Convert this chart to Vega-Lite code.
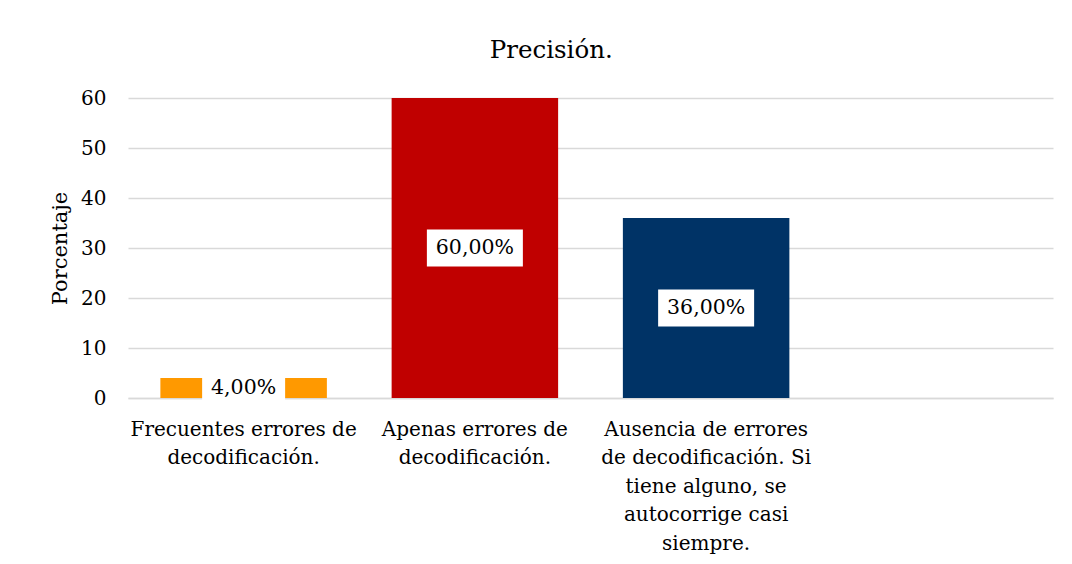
{
  "$schema": "https://vega.github.io/schema/vega-lite/v6.json",
  "width": 925,
  "height": 300,
  "autosize": "none",
  "padding": {"left": 128, "top": 98, "right": 19, "bottom": 166},
  "background": "white",
  "config": {
    "font": "DejaVu Serif",
    "view": {"stroke": null}
  },
  "title": {
    "text": "Precisión.",
    "fontSize": 24.5,
    "fontWeight": "normal",
    "color": "#000000",
    "frame": "bounds",
    "anchor": "middle",
    "offset": 25
  },
  "data": {
    "values": [
      {"categoria": "Frecuentes errores de\ndecodificación.", "valor": 4, "etiqueta": "4,00%"},
      {"categoria": "Apenas errores de\ndecodificación.", "valor": 60, "etiqueta": "60,00%"},
      {"categoria": "Ausencia de errores\nde decodificación. Si\ntiene alguno, se\nautocorrige casi\nsiempre.", "valor": 36, "etiqueta": "36,00%"}
    ]
  },
  "transform": [{"calculate": "datum.valor / 2", "as": "medio"}],
  "encoding": {
    "x": {
      "field": "categoria",
      "type": "nominal",
      "sort": null,
      "scale": {
        "domain": [
          "Frecuentes errores de\ndecodificación.",
          "Apenas errores de\ndecodificación.",
          "Ausencia de errores\nde decodificación. Si\ntiene alguno, se\nautocorrige casi\nsiempre.",
          " "
        ],
        "paddingInner": 0.28,
        "paddingOuter": 0.14
      },
      "axis": {
        "title": null,
        "labelAngle": 0,
        "labelExpr": "split(datum.label, '\\n')",
        "labelFontSize": 20,
        "labelColor": "#000000",
        "labelLineHeight": 28.5,
        "labelPadding": 21,
        "labelLimit": 400,
        "ticks": false,
        "domainColor": "#D9D9D9",
        "domainWidth": 1.5,
        "grid": false
      }
    }
  },
  "layer": [
    {
      "mark": {"type": "bar"},
      "encoding": {
        "y": {
          "field": "valor",
          "type": "quantitative",
          "scale": {"domain": [0, 60]},
          "axis": {
            "title": "Porcentaje",
            "titleFontSize": 21,
            "titleFontWeight": "normal",
            "titleColor": "#000000",
            "titlePadding": 10,
            "values": [0, 10, 20, 30, 40, 50, 60],
            "labelFontSize": 20,
            "labelColor": "#000000",
            "labelPadding": 22,
            "ticks": false,
            "domain": false,
            "gridColor": "#D9D9D9",
            "gridWidth": 1.5
          }
        },
        "color": {
          "field": "categoria",
          "type": "nominal",
          "scale": {
            "domain": [
              "Frecuentes errores de\ndecodificación.",
              "Apenas errores de\ndecodificación.",
              "Ausencia de errores\nde decodificación. Si\ntiene alguno, se\nautocorrige casi\nsiempre."
            ],
            "range": ["#FF9900", "#C00000", "#003366"]
          },
          "legend": null
        }
      }
    },
    {
      "mark": {"type": "point", "filled": true, "color": "white", "opacity": 1, "strokeWidth": 0},
      "encoding": {
        "y": {"field": "medio", "type": "quantitative"},
        "shape": {
          "condition": {"test": "datum.valor < 10", "value": "M-1,-0.446L1,-0.446L1,0.446L-1,0.446Z"},
          "value": "M-1,-0.385L1,-0.385L1,0.385L-1,0.385Z"
        },
        "size": {
          "condition": {"test": "datum.valor < 10", "value": 6889},
          "value": 9216
        }
      }
    },
    {
      "mark": {"type": "text", "fontSize": 20.5, "color": "#000000", "baseline": "middle", "align": "center"},
      "encoding": {
        "y": {"field": "medio", "type": "quantitative"},
        "text": {"field": "etiqueta", "type": "nominal"}
      }
    }
  ]
}
